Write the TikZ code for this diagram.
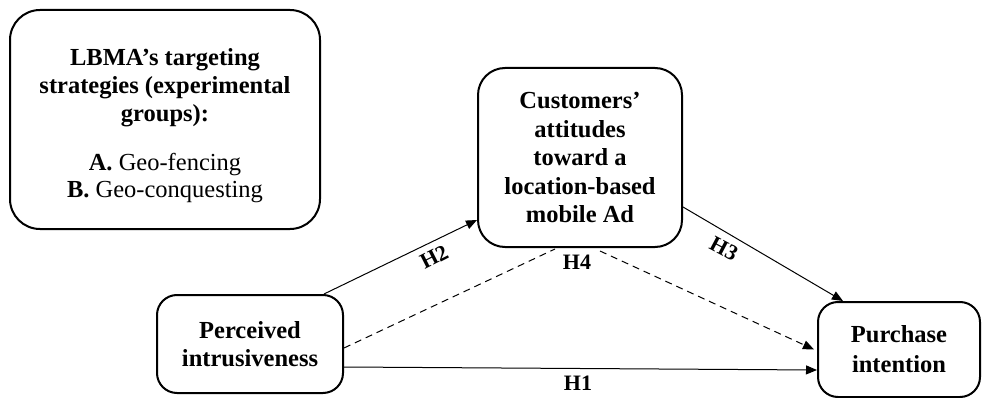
\documentclass[tikz,border=0pt]{standalone}
\usepackage{fontspec}
\setmainfont{Liberation Serif}
\usetikzlibrary{arrows.meta}
\begin{document}
\begin{tikzpicture}[x=1pt,y=-1pt,
  box/.style={draw,line width=2pt,rounded corners=#1,inner sep=0pt},
  box/.default=22pt,
  txt/.style={font=\fontsize{24.5}{28}\selectfont,align=center},
  lbl/.style={font=\fontsize{22}{24}\selectfont\bfseries,inner sep=0pt},
  conn/.style={line width=1pt},
  tip/.style={-{Triangle[length=11pt,width=9pt]}}
]
\useasboundingbox (0,0) rectangle (982,398);
% boxes
\node[box=30pt,minimum width=310pt,minimum height=219pt] (lbma) at (165,119.5) {};
\node[txt] (lbmatext) at (165,126) {\bfseries LBMA’s targeting\\ \bfseries strategies (experimental\\ \bfseries groups):\\[21pt]
  \textbf{A.} Geo-fencing\\[-1pt] \textbf{B.} Geo-conquesting};
\node[box=27pt,minimum width=204pt,minimum height=179pt,txt,font=\fontsize{24.5}{28.5}\selectfont\bfseries] (cust) at (580,157.5)
  {Customers’\\attitudes\\toward a\\location-based\\mobile Ad};
\node[box=20pt,minimum width=186pt,minimum height=98pt,txt,font=\fontsize{24.5}{28}\selectfont\bfseries] (perc) at (250,344)
  {Perceived\\intrusiveness};
\node[box=20pt,minimum width=162pt,minimum height=95pt,txt,font=\fontsize{24.5}{30}\selectfont\bfseries] (pur) at (899,349.5)
  {Purchase\\intention};
% connectors
\draw[conn,tip] ([xshift=-20pt]perc.north east) -- ([yshift=-62.5pt]cust.west);
\coordinate (h4a) at ([xshift=-25pt,yshift=-1pt]cust.south);
\coordinate (h4b) at ([xshift=20pt,yshift=-3pt]cust.south);
\draw[conn,dashed,dash pattern=on 7pt off 5pt] ([yshift=-4pt]perc.east) -- (h4a);
\draw[conn,dashed,dash pattern=on 7pt off 5pt,tip] (h4b) -- ([xshift=-3pt]pur.west);
\draw[conn,tip] ([yshift=-49.5pt]cust.east) -- ([xshift=-56pt]pur.north);
\draw[conn,tip] ([yshift=-23pt]perc.east) -- ([yshift=-20.5pt]pur.west);
% labels
\node[lbl,rotate=27] (lh2) at (434,257) {H2};
\node[lbl,rotate=-28] (lh3) at (724,249) {H3};
\node[lbl] (lh4) at (577,262) {H4};
\node[lbl] (lh1) at (578,383) {H1};
\end{tikzpicture}
\end{document}
